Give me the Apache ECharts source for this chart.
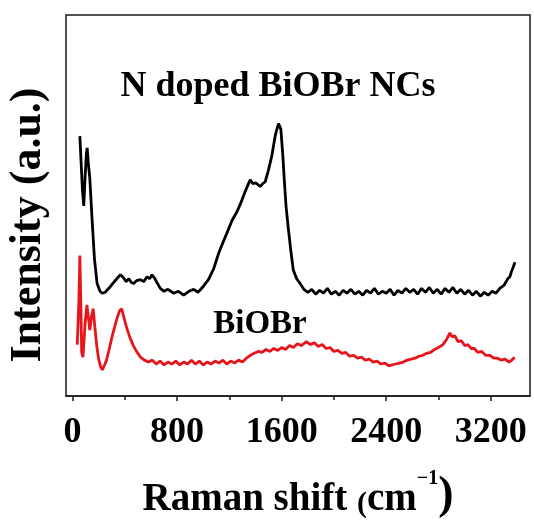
<!DOCTYPE html>
<html>
<head>
<meta charset="utf-8">
<script src="https://cdn.jsdelivr.net/npm/echarts@6/dist/echarts.min.js"></script>
<style>
  html, body { margin: 0; padding: 0; background: #fff; }
  #chart { width: 534px; height: 524px; }
</style>
</head>
<body>
<div id="chart"></div>
<script>
// Raman shift (cm^-1), intensity in arbitrary units
const dopedShift = [
  56, 66, 76, 86, 96, 106, 112, 122, 132, 150, 168, 188, 210, 227, 250, 265, 290, 320, 345, 367,
  390, 410, 430, 450, 468, 490, 519, 545, 570, 590, 608, 630, 650, 672, 700, 730, 774, 810, 850, 890,
  927, 960, 1000, 1040, 1079, 1120, 1150, 1181, 1220, 1258, 1290, 1321, 1340, 1359, 1380, 1398, 1420, 1436, 1455, 1474,
  1499, 1525, 1550, 1565, 1576, 1594, 1609, 1621, 1634, 1650, 1670, 1689, 1715, 1741, 1770, 1800, 1830, 1860, 1890, 1920,
  1950, 1980, 2010, 2040, 2070, 2100, 2130, 2160, 2190, 2220, 2250, 2280, 2310, 2340, 2370, 2400, 2430, 2460, 2490, 2520,
  2550, 2580, 2610, 2640, 2670, 2700, 2730, 2760, 2790, 2820, 2850, 2880, 2910, 2940, 2970, 3000, 3030, 3060, 3090, 3120,
  3150, 3180, 3210, 3240, 3269, 3300, 3330, 3346, 3360, 3372, 3385
];
const dopedIntensity = [
  268, 240, 212, 196, 226, 250, 256, 238, 225, 181, 141, 116, 108, 106, 107, 108, 113, 118, 122, 125,
  122, 118, 121, 117, 116, 119, 120, 118, 123, 121, 125, 121, 116, 111, 108, 110, 106, 108, 104, 108,
  110, 107, 113, 120, 131, 148, 158, 168, 181, 190, 200, 211, 217, 223, 219, 220, 218, 216, 219, 221,
  233, 248, 268, 276, 281, 275, 248, 221, 195, 174, 150, 130, 121, 116, 110, 107, 110, 105, 109, 106,
  111, 105, 108, 104, 109, 106, 110, 105, 108, 104, 109, 106, 111, 105, 108, 106, 110, 104, 109, 106,
  111, 107, 110, 105, 111, 107, 112, 106, 110, 105, 111, 107, 112, 106, 110, 105, 109, 104, 108, 103,
  107, 104, 108, 106, 111, 114, 121, 123, 129, 133, 138
];

const pureShift = [
  36, 48, 56, 63, 70, 80, 96, 110, 122, 132, 145, 158, 170, 185, 200, 215, 228, 245, 260, 280,
  300, 320, 340, 360, 376, 395, 415, 440, 465, 490, 520, 550, 580, 610, 640, 670, 700, 730, 760, 790,
  820, 850, 880, 910, 940, 970, 1000, 1030, 1060, 1090, 1120, 1150, 1180, 1210, 1240, 1270, 1300, 1330, 1360, 1390,
  1420, 1450, 1480, 1510, 1540, 1570, 1600, 1630, 1660, 1690, 1720, 1750, 1790, 1820, 1850, 1880, 1910, 1940, 1970, 2000,
  2030, 2060, 2090, 2120, 2150, 2180, 2210, 2240, 2270, 2300, 2330, 2360, 2390, 2420, 2444, 2470, 2500, 2530, 2560, 2590,
  2620, 2650, 2680, 2710, 2740, 2770, 2800, 2834, 2860, 2887, 2905, 2925, 2950, 2975, 3000, 3025, 3050, 3075, 3100, 3130,
  3160, 3190, 3226, 3250, 3280, 3310, 3340, 3360, 3383
];
const pureIntensity = [
  53, 95, 145, 100, 45, 40, 75, 94, 80, 68, 82, 90, 72, 52, 38, 30, 27, 32, 37, 48,
  60, 70, 80, 88, 90, 80, 70, 60, 52, 46, 40, 37, 35, 37, 33, 36, 32, 35, 33, 36,
  32, 35, 33, 37, 33, 36, 32, 35, 33, 36, 34, 37, 33, 36, 34, 37, 35, 39, 42, 44,
  46, 45, 48, 46, 49, 47, 50, 48, 52, 50, 54, 52, 56, 53, 55, 51, 53, 49, 50, 46,
  47, 44, 45, 41, 42, 39, 40, 37, 38, 35, 36, 33, 34, 31, 32, 33, 34, 35, 37, 38,
  39, 41, 42, 44, 45, 48, 50, 53, 58, 65, 61, 62, 56, 57, 52, 53, 49, 49, 45, 46,
  42, 42, 39, 39, 37, 38, 35, 37, 40
];

const majorTicks = [0, 800, 1600, 2400, 3200];
const minorTicks = [400, 1200, 2000, 2800];

const serif = '"Liberation Serif", "Times New Roman", serif';

const chart = echarts.init(document.getElementById('chart'), null, { renderer: 'canvas' });

chart.setOption({
  animation: false,
  backgroundColor: '#fff',
  grid: {
    left: 66, right: 4, top: 15, bottom: 116,
    show: true,
    borderColor: '#1a1a1a',
    borderWidth: 1.5
  },
  xAxis: [
    {
      type: 'value',
      min: -50,
      max: 3500,
      axisLine: { show: true, lineStyle: { color: '#1a1a1a', width: 1.5 } },
      axisTick: { show: true, inside: false, length: 5, customValues: majorTicks, lineStyle: { color: '#1a1a1a', width: 1.5 } },
      axisLabel: {
        customValues: majorTicks,
        formatter: (v) => String(v),
        margin: 19,
        color: '#000',
        fontFamily: serif,
        fontWeight: 'bold',
        fontSize: 36
      },
      splitLine: { show: false },
      name: '{a|Raman shift }{q|(}{a|cm}{s|−1}{p|)}',
      nameLocation: 'middle',
      nameGap: 73,
      nameTextStyle: {
        color: '#000',
        rich: {
          a: { fontFamily: serif, fontWeight: 'bold', fontSize: 39, color: '#000', lineHeight: 50, verticalAlign: 'bottom' },
          q: { fontFamily: serif, fontWeight: 'bold', fontSize: 30, color: '#000', lineHeight: 50, verticalAlign: 'bottom' },
          s: { fontFamily: serif, fontWeight: 'bold', fontSize: 20, color: '#000', lineHeight: 50, verticalAlign: 'top' },
          p: { fontFamily: serif, fontWeight: 'bold', fontSize: 46, color: '#000', lineHeight: 50, verticalAlign: 'bottom' }
        }
      }
    },
    {
      type: 'value',
      min: -50,
      max: 3500,
      position: 'bottom',
      axisLine: { show: false },
      axisTick: { show: true, inside: false, length: 4, customValues: minorTicks, lineStyle: { color: '#1a1a1a', width: 1.5 } },
      axisLabel: { show: false },
      splitLine: { show: false }
    }
  ],
  yAxis: {
    type: 'value',
    min: 0,
    max: 393,
    axisLine: { show: false },
    axisTick: { show: false },
    axisLabel: { show: false },
    splitLine: { show: false }
  },
  series: [
    {
      name: 'N doped BiOBr NCs',
      type: 'line',
      data: dopedShift.map((x, i) => [x, dopedIntensity[i]]),
      symbol: 'none',
      lineStyle: { color: '#000', width: 2.8 }
    },
    {
      name: 'BiOBr',
      type: 'line',
      data: pureShift.map((x, i) => [x, pureIntensity[i]]),
      symbol: 'none',
      lineStyle: { color: '#e8141b', width: 2.8 }
    }
  ],
  graphic: [
    {
      type: 'text',
      x: 29, y: 225,
      rotation: Math.PI / 2,
      style: {
        text: 'Intensity (a.u.)',
        fill: '#000',
        font: 'bold 44px ' + serif,
        textAlign: 'center',
        textVerticalAlign: 'middle'
      }
    },
    {
      type: 'text',
      x: 278, y: 87,
      style: {
        text: 'N doped BiOBr NCs',
        fill: '#000',
        font: 'bold 36px ' + serif,
        textAlign: 'center',
        textVerticalAlign: 'middle'
      }
    },
    {
      type: 'text',
      x: 260, y: 324,
      style: {
        text: 'BiOBr',
        fill: '#000',
        font: 'bold 33px ' + serif,
        textAlign: 'center',
        textVerticalAlign: 'middle'
      }
    }
  ]
});
</script>
</body>
</html>
